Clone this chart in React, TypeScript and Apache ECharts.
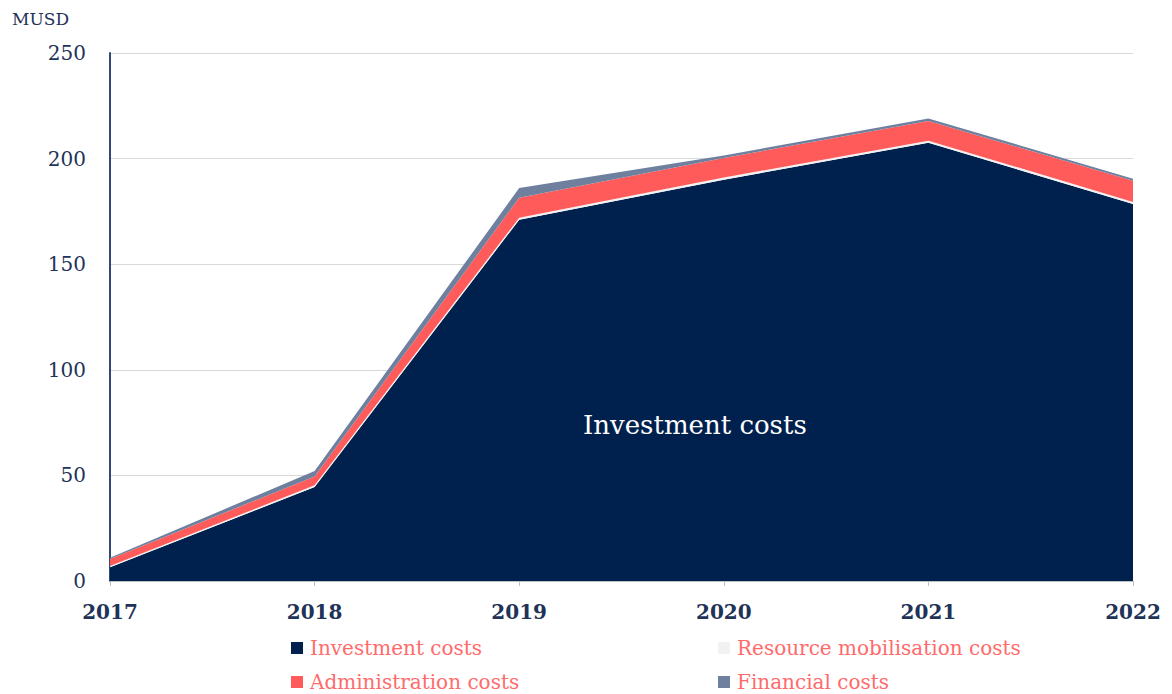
import React, { useEffect, useRef } from "react";
import * as echarts from "echarts";

const years = ["2017", "2018", "2019", "2020", "2021", "2022"];
const investment = [6.5, 44.5, 171, 190, 207.5, 178.5];
const resourceMobilisation = [0.6, 0.8, 1, 1, 1, 1];
const administration = [3.3, 4.2, 9.5, 9.3, 9.3, 10];
const financial = [0.6, 2.6, 4.6, 1.2, 1.2, 1];
const yTicks = [0, 50, 100, 150, 200, 250];

const FONT = "DejaVu Serif";
const NAVY = "#00214d";
const CORAL = "#ff5b5b";
const SLATE = "#6f809f";
const LIGHT = "#f2f2f2";

export default function App() {
  const ref = useRef<HTMLDivElement>(null);
  useEffect(() => {
    if (!ref.current) return;
    const chart = echarts.init(ref.current, null, { renderer: "svg" });
    const mk = (name: string, data: number[], color: string) => ({
      name,
      type: "line",
      stack: "total",
      data,
      symbol: "none",
      lineStyle: { width: 0 },
      itemStyle: { color },
      areaStyle: { color, opacity: 1 },
    });
    const legendText = {
      color: "#ff6a6a",
      fontFamily: FONT,
      fontSize: 20,
      lineHeight: 20,
      padding: [0, 0, 0, 2],
    };
    chart.setOption({
      animation: false,
      grid: { left: 110, right: 39, top: 53, bottom: 113 },
      xAxis: {
        type: "category",
        data: years,
        boundaryGap: false,
        axisLine: { lineStyle: { color: "#bfbfbf", width: 1 } },
        axisTick: { show: true, length: 5, lineStyle: { color: "#bfbfbf" } },
        axisLabel: {
          color: "#1f3358",
          fontFamily: FONT,
          fontWeight: "bold",
          fontSize: 20,
          margin: 21,
        },
      },
      yAxis: {
        type: "value",
        min: yTicks[0],
        max: yTicks[yTicks.length - 1],
        interval: 50,
        axisLine: { show: true, lineStyle: { color: "#2f4a73", width: 2 } },
        axisTick: { show: false },
        splitLine: { lineStyle: { color: "#d9d9d9" } },
        axisLabel: { color: "#1f3358", fontFamily: FONT, fontSize: 20, margin: 24 },
      },
      legend: [
        {
          orient: "vertical",
          left: 291,
          top: 638,
          padding: 0,
          itemWidth: 12,
          itemHeight: 12,
          itemGap: 14,
          icon: "rect",
          data: ["Investment costs", "Administration costs"],
          textStyle: legendText,
        },
        {
          orient: "vertical",
          left: 718,
          top: 638,
          padding: 0,
          itemWidth: 12,
          itemHeight: 12,
          itemGap: 14,
          icon: "rect",
          data: ["Resource mobilisation costs", "Financial costs"],
          textStyle: legendText,
        },
      ],
      graphic: [
        {
          type: "text",
          left: 12,
          top: 10,
          style: { text: "MUSD", fill: "#1f3358", font: `17px "${FONT}"` },
        },
        {
          type: "text",
          left: 583,
          top: 412,
          z: 100,
          style: { text: "Investment costs", fill: "#ffffff", font: `26px "${FONT}"` },
        },
      ],
      series: [
        mk("Investment costs", investment, NAVY),
        mk("Resource mobilisation costs", resourceMobilisation, LIGHT),
        mk("Administration costs", administration, CORAL),
        mk("Financial costs", financial, SLATE),
      ],
    });
    return () => chart.dispose();
  }, []);
  return (
    <div
      ref={ref}
      style={{ position: "absolute", left: 0, top: 0, width: 1172, height: 694 }}
    />
  );
}
